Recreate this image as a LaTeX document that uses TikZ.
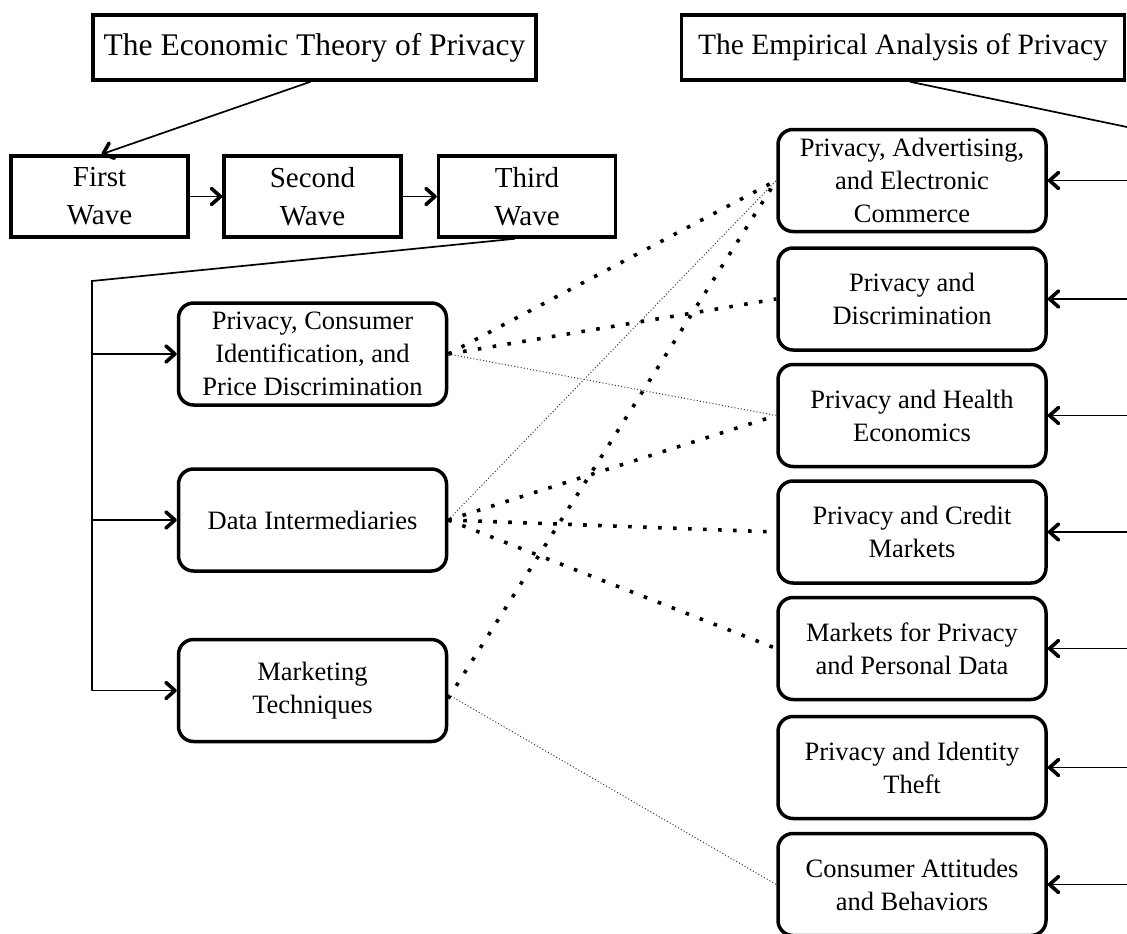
\documentclass[tikz,border=0pt]{standalone}
\usepackage{fontspec}
\setmainfont{Liberation Serif}
\usetikzlibrary{arrows.meta}
\begin{document}
\begin{tikzpicture}[x=1pt,y=-1pt,
  hdr/.style={draw, line width=3.5pt, minimum width=443pt, minimum height=65pt, inner sep=0pt},
  wave/.style={draw, line width=3.5pt, minimum width=177pt, minimum height=81pt, align=center, font=\fontsize{29}{38}\selectfont, inner sep=0pt},
  topic/.style={draw, line width=3.5pt, rounded corners=15pt, minimum width=268pt, minimum height=102pt, align=center, font=\fontsize{26.5}{33}\selectfont, inner sep=0pt},
  conn/.style={line width=1.7pt},
  arr/.style={conn, -{Straight Barb[length=9pt,width=16pt,line width=3.6pt,round]}},
  bigdot/.style={line width=3.6pt, dash pattern=on 3.6pt off 11.4pt},
  smalldot/.style={line width=1pt, dash pattern=on 1pt off 2.2pt, black!80},
]
\useasboundingbox (0,0) rectangle (1127,934);

\node[hdr, font=\fontsize{31.5}{38}\selectfont] (econ) at (314.5,47.5) {The Economic Theory of Privacy};
\node[hdr, font=\fontsize{29.5}{38}\selectfont] (emp) at (903,47.5) {The Empirical Analysis of Privacy};

\node[wave] (w1) at (99.5,196.5) {First\\Wave};
\node[wave] (w2) at (312.5,196.5) {Second\\Wave};
\node[wave] (w3) at (527,196.5) {Third\\Wave};

\node[topic] (l1) at (312.5,354) {Privacy, Consumer\\Identification, and\\Price Discrimination};
\node[topic] (l2) at (312.5,520) {Data Intermediaries};
\node[topic] (l3) at (312.5,690.5) {Marketing\\Techniques};

\node[topic] (r1) at (912,180.5) {Privacy, Advertising,\\and Electronic\\Commerce};
\node[topic] (r2) at (912,299) {Privacy and\\Discrimination};
\node[topic] (r3) at (912,415.5) {Privacy and Health\\Economics};
\node[topic] (r4) at (912,532) {Privacy and Credit\\Markets};
\node[topic] (r5) at (912,648.5) {Markets for Privacy\\and Personal Data};
\node[topic] (r6) at (912,767.5) {Privacy and Identity\\Theft};
\node[topic] (r7) at (912,884.5) {Consumer Attitudes\\and Behaviors};

\coordinate (tw) at (92,281);
\coordinate (ew) at (1127,127);

\draw[arr] ([xshift=-4pt]econ.south) -- ([xshift=2pt]w1.north);
\draw[arr] (w1.east) -- (w2.west);
\draw[arr] (w2.east) -- (w3.west);
\draw[conn] ([xshift=-12pt]w3.south) -- (tw) -- (tw |- l3.west);
\foreach \n in {l1,l2,l3} \draw[arr] (tw |- \n.west) -- (\n.west);
\draw[conn] ([xshift=7pt]emp.south) -- (ew);
\foreach \n in {r1,r2,r3,r4,r5,r6,r7} \draw[arr] (ew |- \n.east) -- (\n.east);

\draw[bigdot] (l1.east) -- (r1.west);
\draw[bigdot] (l1.east) -- (r2.west);
\draw[smalldot] (l1.east) -- (r3.west);
\draw[smalldot] (l2.east) -- (r1.west);
\draw[bigdot] (l2.east) -- (r3.west);
\draw[bigdot] (l2.east) -- (r4.west);
\draw[bigdot] (l2.east) -- (r5.west);
\draw[bigdot] ([yshift=-8pt]l3.east) -- (r1.west);
\draw[smalldot] ([yshift=-4pt]l3.east) -- (r7.west);
\end{tikzpicture}
\end{document}
